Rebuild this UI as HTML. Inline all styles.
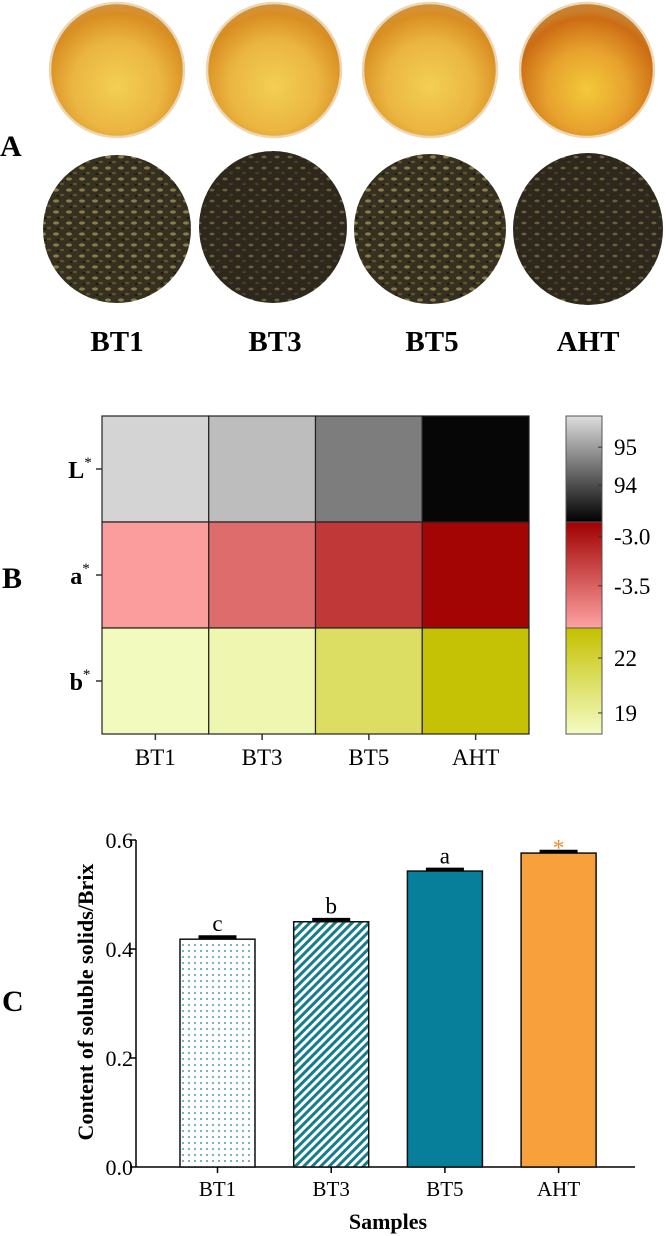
<!DOCTYPE html>
<html><head><meta charset="utf-8"><style>
html,body{margin:0;padding:0;background:#fff;}
svg{display:block;font-family:"Liberation Serif",serif;}
</style></head><body>
<svg id="fig" width="669" height="1236" viewBox="0 0 669 1236" xmlns="http://www.w3.org/2000/svg">
<defs>
<radialGradient id="cupg" cx="0.5" cy="0.62" r="0.6">
<stop offset="0" stop-color="#f3cf52"/><stop offset="0.55" stop-color="#ebb642"/><stop offset="0.9" stop-color="#d98e22"/><stop offset="1" stop-color="#d2923a"/></radialGradient>
<radialGradient id="cupg4" cx="0.5" cy="0.65" r="0.6">
<stop offset="0" stop-color="#f3c93a"/><stop offset="0.5" stop-color="#e8a22e"/><stop offset="0.9" stop-color="#cc6c14"/><stop offset="1" stop-color="#c9802c"/></radialGradient>
<pattern id="leafpat" width="13" height="11" patternUnits="userSpaceOnUse">
<rect width="13" height="11" fill="#35301f"/>
<ellipse cx="4" cy="3" rx="3" ry="1.6" fill="#8a7c48"/>
<ellipse cx="10" cy="8" rx="2.2" ry="1.3" fill="#5e5530"/>
<ellipse cx="6" cy="9" rx="1.5" ry="1" fill="#1e1a12"/>
</pattern>
<pattern id="leafpat2" width="13" height="11" patternUnits="userSpaceOnUse">
<rect width="13" height="11" fill="#2e281c"/>
<ellipse cx="4" cy="3" rx="2.5" ry="1.4" fill="#6a5e3c"/>
<ellipse cx="10" cy="8" rx="2" ry="1.2" fill="#463e2a"/>
</pattern>
<pattern id="dots" width="6" height="6" patternUnits="userSpaceOnUse">
<rect width="6" height="6" fill="#fff"/><circle cx="3" cy="3" r="0.9" fill="#1f7f8c"/></pattern>
<pattern id="hatch" width="6" height="6" patternUnits="userSpaceOnUse" patternTransform="rotate(45)">
<rect width="6" height="6" fill="#fff"/><rect width="3" height="6" fill="#177d8c"/></pattern>
</defs>

<!-- Panel A -->
<text x="0" y="156" font-size="30" font-weight="bold">A</text>
<g>
<circle cx="117" cy="70" r="67" fill="url(#cupg)" stroke="#ecd7b4" stroke-width="2.5"/>
<circle cx="274" cy="70" r="67" fill="url(#cupg)" stroke="#ecd7b4" stroke-width="2.5"/>
<circle cx="430" cy="70" r="67" fill="url(#cupg)" stroke="#ecd7b4" stroke-width="2.5"/>
<circle cx="587" cy="70" r="67" fill="url(#cupg4)" stroke="#ecd7b4" stroke-width="2.5"/>
</g>
<g>
<ellipse cx="117" cy="229" rx="74" ry="74" fill="url(#leafpat)"/>
<ellipse cx="273" cy="227" rx="74" ry="76" fill="url(#leafpat2)"/>
<ellipse cx="430" cy="229" rx="76" ry="75" fill="url(#leafpat)"/>
<ellipse cx="588" cy="229" rx="75" ry="76" fill="url(#leafpat2)"/>
</g>
<g font-size="29" font-weight="bold" text-anchor="middle">
<text x="117" y="351">BT1</text>
<text x="275" y="351">BT3</text>
<text x="432" y="351">BT5</text>
<text x="588" y="351">AHT</text>
</g>

<!-- Panel B -->
<text x="2" y="588" font-size="30" font-weight="bold">B</text>
<g id="heat"></g>

<!-- Panel C -->
<text x="2" y="1011" font-size="30" font-weight="bold">C</text>
<g id="bars"></g>
</svg>
<script>
var NS="http://www.w3.org/2000/svg";
// ---- heatmap data ----
var heatCols=["BT1","BT3","BT5","AHT"];
var heatRows=["L","a","b"];
var valuesL=[95.7,95.4,94.6,93.1];
var valuesA=[-3.90,-3.57,-3.22,-2.88];
var valuesB=[18.0,18.4,20.7,23.5];
var ticksL=[95,94];
var ticksA=[-3.0,-3.5];
var ticksB=[22,19];
var tickLabelsA=["-3.0","-3.5"];
// ---- bar data ----
var barCats=["BT1","BT3","BT5","AHT"];
var barVals=[0.418,0.450,0.543,0.576];
var barErr=[0.004,0.004,0.003,0.003];
var barLetters=["c","b","a","*"];
var yTicks=[0.0,0.2,0.4,0.6];
var yTickLabels=["0.0","0.2","0.4","0.6"];

function mk(tag,attrs,parent){var e=document.createElementNS(NS,tag);for(var k in attrs)e.setAttribute(k,attrs[k]);parent.appendChild(e);return e;}
function lerp(c1,c2,t){t=Math.max(0,Math.min(1,t));return "rgb("+[0,1,2].map(function(i){return Math.round(c1[i]+(c2[i]-c1[i])*t);}).join(",")+")";}

var heat=document.getElementById("heat");
var hx0=102,hx1=529,hy0=416,rowH=106;
var colW=(hx1-hx0)/heatCols.length;
var scales=[
 {vals:valuesL,lo:93.03,hi:95.82,cLo:[0,0,0],cHi:[222,222,222],ticks:ticksL,labels:ticksL.map(String),name:"L"},
 {vals:valuesA,lo:-3.93,hi:-2.85,cLo:[255,162,162],cHi:[160,0,0],ticks:ticksA,labels:tickLabelsA,name:"a"},
 {vals:valuesB,lo:17.85,hi:23.64,cLo:[244,252,194],cHi:[196,192,0],ticks:ticksB,labels:ticksB.map(String),name:"b"}
];
var cbx=566,cbw=36;
scales.forEach(function(s,r){
  var top=hy0+r*rowH;
  s.vals.forEach(function(v,c){
    var t=(v-s.lo)/(s.hi-s.lo);
    var rc=mk("rect",{x:hx0+c*colW,y:top,width:colW,height:rowH,fill:lerp(s.cLo,s.cHi,t),stroke:"#222","stroke-width":1.2},heat);
    
    
  });
  var lab=mk("text",{x:80,y:top+rowH/2+9,"font-size":24,"font-weight":"bold","text-anchor":"middle"},heat);
  lab.textContent=s.name;
  var sup=mk("tspan",{dy:-11,"font-size":15,"font-weight":"normal"},lab);sup.textContent="*";
  
  
  mk("line",{x1:96,x2:hx0,y1:top+rowH/2,y2:top+rowH/2,stroke:"#333","stroke-width":1.5},heat);
  var gid="cb"+r;
  var lg=mk("linearGradient",{id:gid,x1:0,y1:0,x2:0,y2:1},heat);
  mk("stop",{offset:0,"stop-color":lerp(s.cLo,s.cHi,1)},lg);
  mk("stop",{offset:1,"stop-color":lerp(s.cLo,s.cHi,0)},lg);
  var cb=mk("rect",{x:cbx,y:top,width:cbw,height:rowH,fill:"url(#"+gid+")",stroke:"#555","stroke-width":1},heat);
  
  
  s.ticks.forEach(function(tv,i){
    var y=top+(s.hi-tv)/(s.hi-s.lo)*rowH;
    mk("line",{x1:cbx+cbw-4,x2:cbx+cbw,y1:y,y2:y,stroke:"#333","stroke-width":1},heat);
    var tl=mk("text",{x:cbx+cbw+12,y:y+8,"font-size":23},heat);
    tl.textContent=s.labels[i];
    
    
  });
});
heatCols.forEach(function(c,i){
  var cx=hx0+colW*(i+0.5);
  mk("line",{x1:cx,x2:cx,y1:hy0+3*rowH,y2:hy0+3*rowH+6,stroke:"#333","stroke-width":1.5},heat);
  var t=mk("text",{x:cx,y:765,"font-size":23,"text-anchor":"middle"},heat);
  t.textContent=c;
  
  
});

// ---- bars ----
var bars=document.getElementById("bars");
var ax0=136,ax1=635,y0=1167,y06=840;
function yS(v){return y0-(v/0.6)*(y0-y06);}
var step=113.7,first=217.5,bw=75;
var fills=["url(#dots)","url(#hatch)","#087f9a","#f8a03c"];
mk("line",{x1:ax0,x2:ax0,y1:y06,y2:y0,stroke:"#000","stroke-width":1.5},bars);
mk("line",{x1:ax0,x2:ax1,y1:y0,y2:y0,stroke:"#000","stroke-width":1.5},bars);
yTicks.forEach(function(v,i){
  var y=yS(v);
  mk("line",{x1:ax0-6,x2:ax0,y1:y,y2:y,stroke:"#000","stroke-width":1.5},bars);
  var t=mk("text",{x:ax0-3,y:y+8,"font-size":22,"text-anchor":"end"},bars);
  t.textContent=yTickLabels[i];
  
  
});
barCats.forEach(function(c,i){
  var cx=first+i*step,v=barVals[i];
  var r=mk("rect",{x:cx-bw/2,y:yS(v),width:bw,height:y0-yS(v),fill:fills[i],stroke:"#111","stroke-width":1.5},bars);
  
  
  var ye=yS(v+barErr[i]);
  mk("line",{x1:cx,x2:cx,y1:ye,y2:yS(v),stroke:"#000","stroke-width":2},bars);
  var cap=mk("line",{x1:cx-19,x2:cx+19,y1:ye,y2:ye,stroke:"#000","stroke-width":3.5},bars);
  
  
  var lt=mk("text",{x:cx,y:ye-6,"font-size":23,"text-anchor":"middle",fill:i==3?"#f08a2c":"#000"},bars);
  if(i==3)lt.setAttribute("y",ye+4);
  lt.textContent=barLetters[i];
  
  
  mk("line",{x1:cx,x2:cx,y1:y0,y2:y0+6,stroke:"#000","stroke-width":1.5},bars);
  var xl=mk("text",{x:cx,y:1196,"font-size":21,"text-anchor":"middle"},bars);
  xl.textContent=c;
  
  
});
var yt=mk("text",{x:0,y:0,"font-size":22,"font-weight":"bold","text-anchor":"middle",transform:"translate(93,1002) rotate(-90)"},bars);
yt.textContent="Content of soluble solids/Brix";


var xt=mk("text",{x:388,y:1229,"font-size":22,"font-weight":"bold","text-anchor":"middle"},bars);
xt.textContent="Samples";


</script>
</body></html>
